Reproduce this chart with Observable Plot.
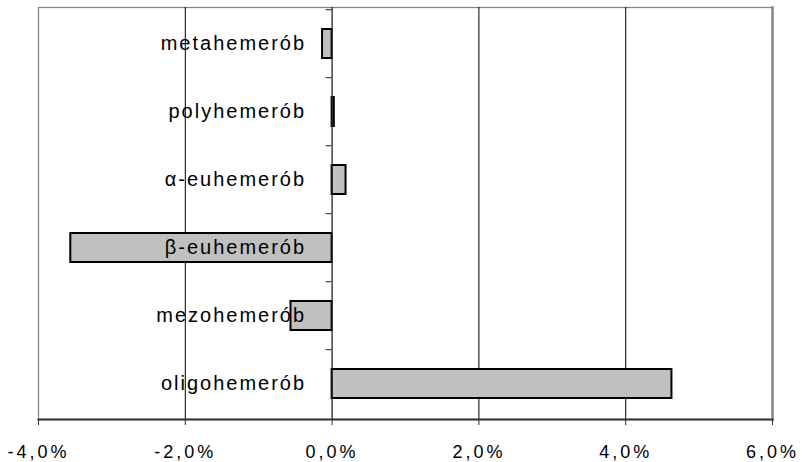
<!DOCTYPE html>
<html>
<head>
<meta charset="utf-8">
<script src="https://cdn.jsdelivr.net/npm/d3@7"></script>
<script src="https://cdn.jsdelivr.net/npm/@observablehq/plot@0.6"></script>
<style>
  body { margin: 0; background: #fff; }
  svg text { letter-spacing: 2px; }
  g[aria-label="x-axis tick label"], g[aria-label="x-axis tick label"] text { letter-spacing: 3px; }
</style>
</head>
<body>
<div id="chart"></div>
<script>
// Hemeroby categories, top to bottom, and their change in percent
const categories = ["metahemerób", "polyhemerób", "α-euhemerób", "β-euhemerób", "mezohemerób", "oligohemerób"];
const changes = [-0.13, 0.03, 0.19, -3.56, -0.56, 4.63];
const xTicks = [-4, -2, 0, 2, 4, 6];
const gridLines = [-2, 2, 4];

const rows = categories.map((name, i) => ({name, value: changes[i]}));

const W = 802, H = 462;
const margin = {top: 7, right: 30, bottom: 43, left: 38};
const step = (H - margin.top - margin.bottom) / categories.length;

const fmt = d => d.toFixed(1).replace(".", ",") + "%";

const chart = Plot.plot({
  width: W,
  height: H,
  marginTop: margin.top,
  marginRight: margin.right,
  marginBottom: margin.bottom,
  marginLeft: margin.left,
  style: {fontFamily: "'Liberation Sans', Arial, sans-serif", background: "#fff", color: "#000"},
  x: {domain: [-4, 6], label: null},
  y: {domain: categories, paddingInner: 0.58, paddingOuter: 0.29, axis: null, label: null},
  marks: [
    Plot.frame({stroke: "#888", strokeWidth: 1.3}),
    Plot.frame({anchor: "right", stroke: "#888", strokeWidth: 2.5}),
    Plot.ruleX(gridLines, {stroke: "#000", strokeWidth: 1}),
    Plot.barX(rows, {x: "value", y: "name", fill: "#c0c0c0", stroke: "#000", strokeWidth: 2}),
    Plot.ruleX([0], {stroke: "#222", strokeWidth: 1.3}),
    // small ticks on the zero line at category boundaries
    Plot.ruleY(categories, {y: d => d, x1: 0, x2: 0, insetLeft: -6, dy: -step / 2, stroke: "#444", strokeWidth: 1.2}),
    Plot.text(rows, {x: 0, y: "name", text: "name", textAnchor: "end", dx: -26, fontSize: 20, fill: "#000"}),
    Plot.frame({anchor: "bottom", stroke: "#333", strokeWidth: 2}),
    Plot.axisX({ticks: xTicks, tickFormat: fmt, tickSize: 6, tickPadding: 20, fontSize: 18, stroke: "#333", label: null})
  ]
});

document.getElementById("chart").appendChild(chart);
</script>
</body>
</html>
